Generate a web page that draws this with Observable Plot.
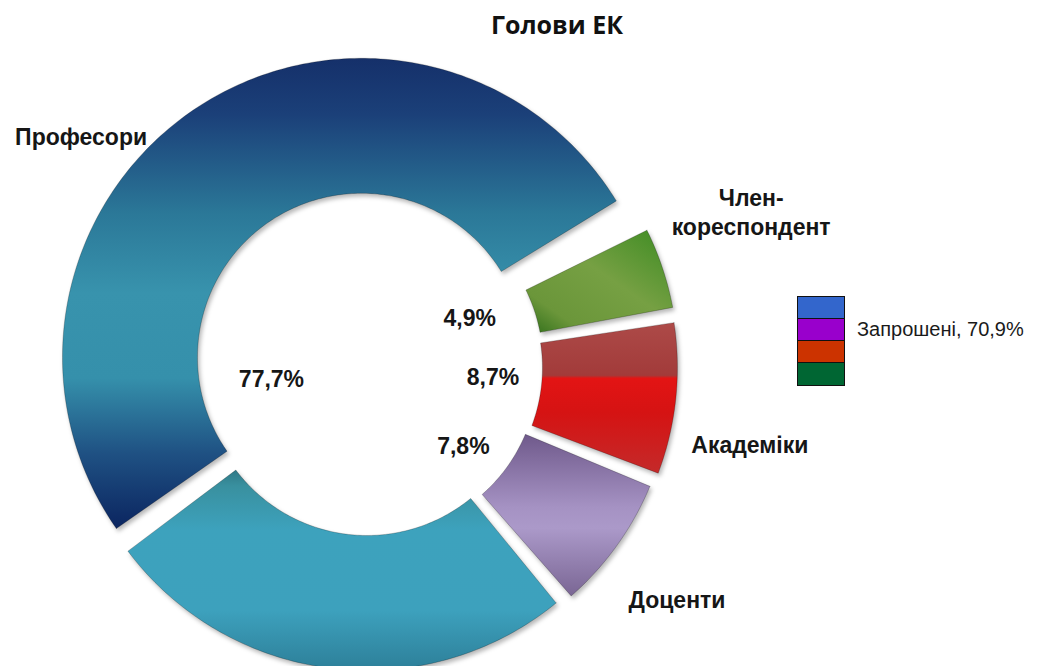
<!DOCTYPE html>
<html>
<head>
<meta charset="utf-8">
<script src="https://cdn.jsdelivr.net/npm/d3@7"></script>
<script src="https://cdn.jsdelivr.net/npm/@observablehq/plot@0.6"></script>
<style>
  body { margin: 0; background: #fff; }
  #wrap { position: relative; width: 1037px; height: 666px; overflow: hidden; background: #fff; }
  #chart { position: absolute; left: 0; top: 0; }
  #title { position: absolute; left: 407px; width: 300px; top: 9px; text-align: center;
           font-family: "Open Sans", sans-serif; font-weight: 700; font-size: 25px; line-height: 30px; color: #111; }
  #legend { position: absolute; left: 797px; top: 296px; width: 48px; }
  #legend .box { box-sizing: border-box; width: 48px; height: 23.5px; border: 1.5px solid #111; margin-bottom: -1.5px; }
  #legend .lab { position: absolute; left: 60px; top: 21px; white-space: nowrap;
                 font-family: "Liberation Sans", Arial, sans-serif; font-size: 20px; line-height: 24px; color: #1a1a1a; }
</style>
</head>
<body>
<div id="wrap">
  <div id="chart"></div>
  <div id="title"></div>
  <div id="legend"></div>
</div>
<script>
// ---------------- data ----------------
const title = "Голови ЕК";
const categories = ["Член-кореспондент", "Академіки", "Доценти", "Професори"];
const shares = [4.9, 8.7, 7.8, 77.7];               // %, clockwise order
const shareLabels = ["4,9%", "8,7%", "7,8%", "77,7%"];
// the professors' ring is drawn as two detached pieces (lower, upper)
const professorParts = [26.2, 51.5];
const legendColors = ["#3366cc", "#9900cc", "#cc3300", "#006633"];
const legendLabel = "Запрошені, 70,9%";

// ---------------- layout / style ----------------
const W = 1037, H = 666;
const C0 = [367, 366];          // donut centre (px)
const rInner = 164, rOuter = 299;
const startAngle = 62.7;        // degrees clockwise from 12 o'clock
const padDeg = 1;               // angular gap at each side of a piece
const explode = { "Член-кореспондент": 12, "Академіки": 11, "Доценти": 8, "Професори-1": 5, "Професори-2": 11 };
const pieceFill = {
  "Член-кореспондент": "url(#gGreen)", "Академіки": "url(#gRed)", "Доценти": "url(#gPurple)",
  "Професори-1": "url(#gTealLow)", "Професори-2": "url(#gBlueUp)"
};
const fontSize = 23;
const pctLabelNudge = [-6.7, -1, 4.2, -17.6], pctLabelR = [113, 126, 125, 97];
const catLabelNudge = [-3.6, 5.4, 1.2, 29.3], catLabelR = [414, 390, 387, 368];

const rad = a => a * Math.PI / 180;
const polar = (a, r, c = C0) => [c[0] + r * Math.sin(rad(a)), c[1] - r * Math.cos(rad(a))];

// pieces
const pieces = [];
let acc = startAngle;
categories.forEach((cat, i) => {
  if (cat === "Професори") {
    professorParts.forEach((v, k) => {
      pieces.push({ id: `Професори-${k + 1}`, a0: acc, a1: acc + v * 3.6 });
      acc += v * 3.6;
    });
  } else {
    pieces.push({ id: cat, a0: acc, a1: acc + shares[i] * 3.6 });
    acc += shares[i] * 3.6;
  }
});
// slice mid angles per category
const catAngles = {};
categories.forEach(cat => {
  const ps = pieces.filter(p => p.id === cat || p.id.startsWith(cat + "-"));
  catAngles[cat] = (ps[0].a0 + ps[ps.length - 1].a1) / 2;
});

const rows = [];
pieces.forEach(p => {
  const mid = (p.a0 + p.a1) / 2;
  const c = polar(mid, explode[p.id]);
  const b0 = p.a0 + padDeg, b1 = p.a1 - padDeg;
  const n = Math.max(4, Math.ceil(b1 - b0));
  const pts = [];
  for (let k = 0; k <= n; k++) pts.push(polar(b0 + (b1 - b0) * k / n, rOuter, c));
  for (let k = n; k >= 0; k--) pts.push(polar(b0 + (b1 - b0) * k / n, rInner, c));
  pts.push(pts[0]);
  pts.forEach(([x, y]) => rows.push({ piece: p.id, x, y }));
});

const pctRows = categories.map((cat, i) => {
  const [x, y] = polar(catAngles[cat] + pctLabelNudge[i], pctLabelR[i]);
  return { x, y, text: shareLabels[i] };
});
const catRows = categories.map((cat, i) => {
  const [x, y] = polar(catAngles[cat] + catLabelNudge[i], catLabelR[i]);
  return { x, y, text: cat === "Член-кореспондент" ? "Член-\nкореспондент" : cat };
});

const pieceIds = pieces.map(p => p.id);

const chart = Plot.plot({
  width: W, height: H, margin: 0,
  style: { background: "transparent", fontFamily: "'Liberation Sans', Arial, sans-serif" },
  x: { domain: [0, W], axis: null },
  y: { domain: [H, 0], axis: null },
  color: { domain: pieceIds, range: pieceIds.map(id => pieceFill[id]) },
  marks: [
    Plot.line(rows, { x: "x", y: "y", z: "piece", fill: "piece", stroke: "rgba(0,0,0,0.22)", strokeWidth: 1, curve: "linear" }),
    Plot.text(pctRows, { x: "x", y: "y", text: "text", fontSize, fontWeight: "bold", fill: "#161616" }),
    Plot.text(catRows, { x: "x", y: "y", text: "text", fontSize, fontWeight: "bold", fill: "#161616", lineHeight: 1.27 })
  ]
});

// gradients
const defs = d3.select(chart).insert("defs", ":first-child");
function grad(id, stops, x2 = 0, y2 = 1, x1 = 0, y1 = 0) {
  const g = defs.append("linearGradient").attr("id", id)
    .attr("x1", x1).attr("y1", y1).attr("x2", x2).attr("y2", y2);
  stops.forEach(([o, c]) => g.append("stop").attr("offset", o).attr("stop-color", c));
}
grad("gBlueUp", [[0, "#15306a"], [0.12, "#1b4079"], [0.33, "#2b7898"], [0.5, "#3893ad"], [0.68, "#3590ab"], [0.84, "#1f5183"], [1, "#0b2560"]]);
grad("gTealLow", [[0, "#2f7886"], [0.08, "#39909f"], [0.3, "#3da2bd"], [0.7, "#3da1bd"], [1, "#2d7f99"]]);
grad("gGreen", [[0, "#3c8b22"], [0.45, "#76a043"], [0.8, "#6b963a"], [1, "#2e6d19"]], 0, 1, 1, 0);
grad("gRed", [[0, "#ad4a48"], [0.35, "#a23b3a"], [0.37, "#e31414"], [0.6, "#d51313"], [1, "#c42a2a"]]);
grad("gPurple", [[0, "#6f598b"], [0.45, "#a592c3"], [0.58, "#ab99c9"], [1, "#7a6694"]]);

d3.select(chart).selectAll('g[aria-label="line"]').style("filter", "drop-shadow(2px 3px 2px rgba(0,0,0,0.28))");

document.getElementById("chart").appendChild(chart);
document.getElementById("title").textContent = title;

// legend
const leg = d3.select("#legend");
legendColors.forEach(c => leg.append("div").attr("class", "box").style("background", c));
leg.append("div").attr("class", "lab").text(legendLabel);
</script>
</body>
</html>
